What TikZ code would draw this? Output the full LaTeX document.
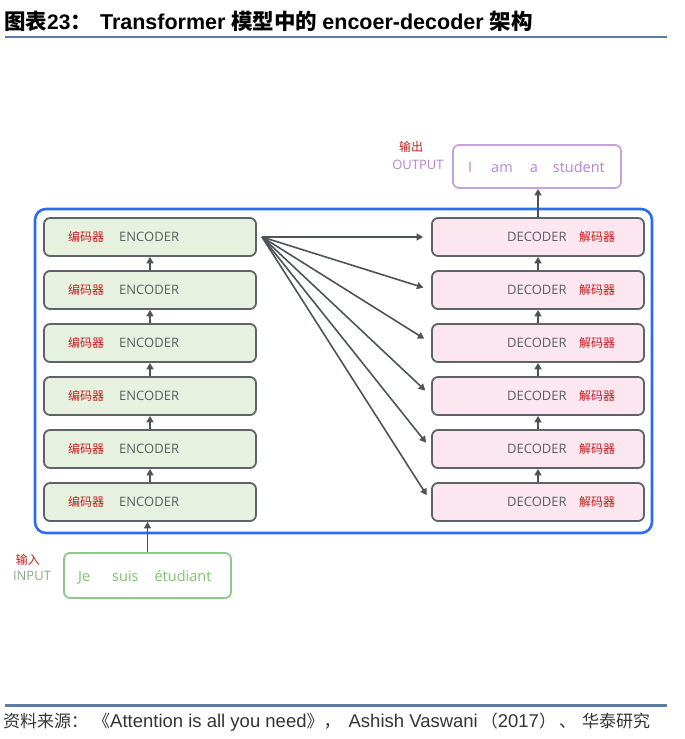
\documentclass[tikz,border=0pt]{standalone}
\usepackage{fontspec}
\setmainfont{Open Sans}
\newfontfamily\cjk{Noto Sans CJK SC}
\newfontfamily\arial{Liberation Sans}
\usetikzlibrary{arrows.meta}
\definecolor{rulblue}{HTML}{5B7BA6}
\definecolor{frameblue}{HTML}{2C6CF0}
\definecolor{boxgray}{HTML}{5E6368}
\definecolor{arrgray}{HTML}{4E535A}
\definecolor{encfill}{HTML}{E6F1E0}
\definecolor{decfill}{HTML}{FCE7F0}
\definecolor{cnred}{HTML}{C41E1E}
\definecolor{tagray}{HTML}{5A5E63}
\definecolor{ingreen}{HTML}{7CC46A}
\definecolor{inborder}{HTML}{8DC98F}
\definecolor{ingray}{HTML}{8FA58F}
\definecolor{outpurple}{HTML}{B583D2}
\definecolor{outborder}{HTML}{C7A2DD}

\begin{document}
\begin{tikzpicture}[x=1pt, y=-1pt,
  box/.style={draw=boxgray, line width=1.8pt, rounded corners=6pt,
    minimum width=212pt, minimum height=38pt, inner sep=0pt},
  encbox/.style={box, fill=encfill},
  decbox/.style={box, fill=decfill},
  cnlabel/.style={font=\cjk\fontsize{12}{12}\selectfont, text=cnred, inner sep=0pt},
  entag/.style={font=\fontsize{13}{13}\selectfont, text=tagray, inner sep=0pt},
  arr/.style={draw=arrgray, line width=1.6pt, -{Triangle[length=6.5pt,width=7pt]}}]
\useasboundingbox (0,0) rectangle (685,739);

% title and source
\node[anchor=base west, inner sep=0pt] (title) at (4,29)
  {{\cjk\bfseries\fontsize{21.5}{21.5}\selectfont 图表}{\arial\bfseries\fontsize{21}{21}\selectfont 23}{\cjk\bfseries\fontsize{21.5}{21.5}\selectfont ：}\hspace{8pt}{\arial\bfseries\fontsize{21.5}{21.5}\selectfont Transformer }{\cjk\bfseries\fontsize{21.5}{21.5}\selectfont 模型中的 }{\arial\bfseries\fontsize{21.5}{21.5}\selectfont encoer-decoder }{\cjk\bfseries\fontsize{21.5}{21.5}\selectfont 架构}};
\draw[rulblue, line width=2pt] (5,37) -- (667,37);
\draw[rulblue, line width=3pt] (5,705) -- (667,705);
\node[anchor=base west, inner sep=0pt, text=black!80] (source) at (3,727)
  {{\cjk\fontsize{17}{17}\selectfont 资料来源：\hspace{5pt}《}{\arial\fontsize{18.5}{18.5}\selectfont Attention is all you need}{\cjk\fontsize{17}{17}\selectfont 》，\hspace{8pt}}{\arial\fontsize{18.5}{18.5}\selectfont Ashish Vaswani}{\cjk\fontsize{17}{17}\selectfont \hspace{3pt}（}{\arial\fontsize{18.5}{18.5}\selectfont 2017}{\cjk\fontsize{17}{17}\selectfont ）\hspace{3pt}、\hspace{6pt}华泰研究}};

% outer frame
\draw[frameblue, line width=2.6pt, rounded corners=11pt] (35,209) rectangle (652,533);

% encoder and decoder stacks
\foreach \i/\y in {1/502,2/449,3/396,4/343,5/290,6/237} {
  \node[encbox] (enc\i) at (150,\y) {};
  \node[cnlabel, anchor=west] at (68,\y) {编码器};
  \node[entag, anchor=west] at (119,\y) {ENCODER};
  \node[decbox] (dec\i) at (538,\y) {};
  \node[entag, anchor=west] at (507,\y) {DECODER};
  \node[cnlabel, anchor=west] at (579,\y) {解码器};
}
\foreach \i/\j in {1/2,2/3,3/4,4/5,5/6} {
  \draw[arr] (enc\i.north) -- (enc\j.south);
  \draw[arr] (dec\i.north) -- (dec\j.south);
}

% encoder output to every decoder
\coordinate (fan) at (262,237);
\foreach \i in {1,...,6}
  \draw[arr, shorten >=8pt] (fan) -- (dec\i.west);

% input
\node[draw=inborder, line width=1.8pt, rounded corners=6pt, minimum width=167pt,
  minimum height=45pt, inner sep=0pt] (inp) at (147.5,575.5) {};
\node[anchor=base west, inner sep=0pt, text=ingreen, font=\fontsize{14.5}{14.5}\selectfont] (intext) at (78,581)
  {Je\hspace{22pt}suis\hspace{16pt}étudiant};
\node[cnlabel] (incn) at (28,560) {输入};
\node[entag, text=ingray] (inen) at (32,576) {INPUT};
\draw[arr] (inp.north) -- (inp.north |- enc1.south);

% output
\node[draw=outborder, line width=1.8pt, rounded corners=6pt, minimum width=168pt,
  minimum height=43pt, inner sep=0pt] (out) at (537,166.5) {};
\node[anchor=base west, inner sep=0pt, text=outpurple, font=\fontsize{14.5}{14.5}\selectfont] (outtext) at (468,172)
  {I\hspace{19pt}am\hspace{17pt}a\hspace{15pt}student};
\node[cnlabel] (outcn) at (411,147) {输出};
\node[entag, text=outpurple] (outen) at (418,165) {OUTPUT};
\draw[arr] (dec6.north) -- (dec6.north |- out.south);
\end{tikzpicture}
\end{document}
